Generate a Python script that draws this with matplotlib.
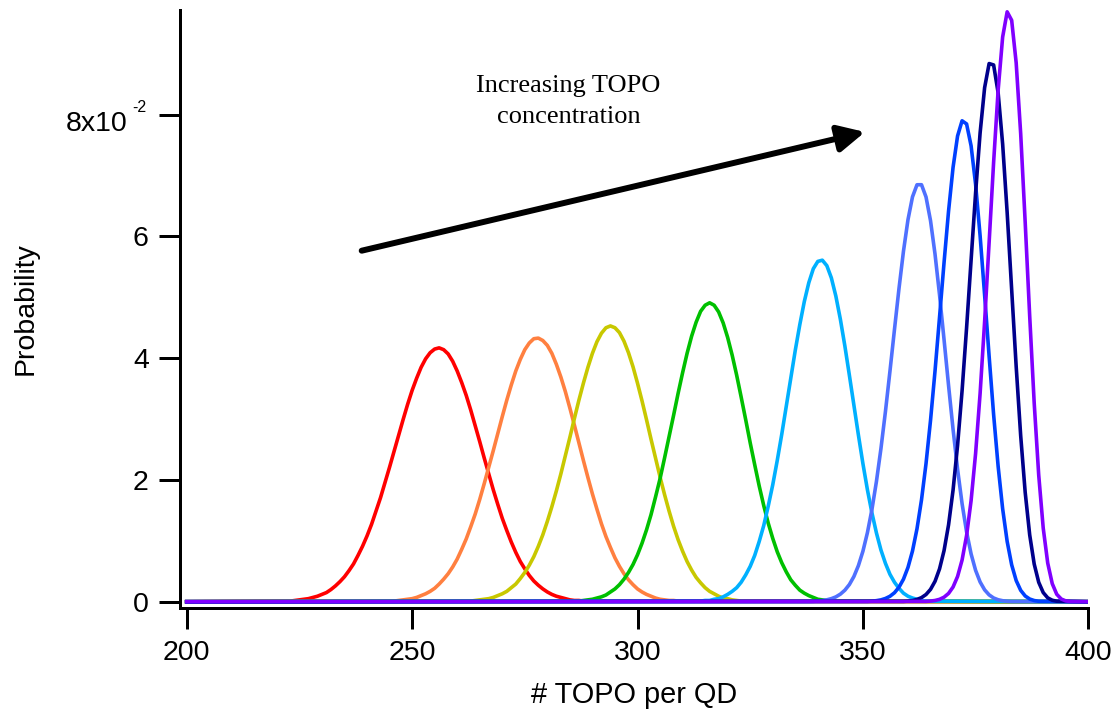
import numpy as np
import matplotlib
matplotlib.use("Agg")
import matplotlib.pyplot as plt

# Probability distributions of the number of TOPO ligands per QD,
# one per TOPO concentration. Values are in units of 1e-2 (matching the
# "x10^-2" axis), listed for consecutive TOPO counts starting at *_start.
red_start = 221
red = [0.01, 0.01, 0.01, 0.02, 0.03, 0.04, 0.05, 0.07, 0.09, 0.12,
       0.15, 0.20, 0.26, 0.33, 0.41, 0.51, 0.62, 0.76, 0.91, 1.08,
       1.27, 1.49, 1.71, 1.96, 2.21, 2.47, 2.73, 2.99, 3.24, 3.47,
       3.67, 3.85, 3.99, 4.09, 4.15, 4.17, 4.14, 4.07, 3.95, 3.79,
       3.60, 3.39, 3.15, 2.89, 2.63, 2.36, 2.10, 1.84, 1.60, 1.37,
       1.17, 0.98, 0.81, 0.66, 0.54, 0.43, 0.34, 0.27, 0.21, 0.16,
       0.12, 0.09, 0.07, 0.05, 0.03, 0.02, 0.02, 0.01, 0.01, 0.01]

orange_start = 244
orange = [0.01, 0.01, 0.01, 0.02, 0.03, 0.04, 0.05, 0.07, 0.10, 0.13,
          0.17, 0.22, 0.29, 0.37, 0.46, 0.57, 0.70, 0.86, 1.03, 1.23,
          1.44, 1.68, 1.94, 2.21, 2.48, 2.76, 3.04, 3.31, 3.56, 3.79,
          3.98, 4.14, 4.25, 4.32, 4.33, 4.29, 4.21, 4.08, 3.90, 3.69,
          3.45, 3.18, 2.90, 2.61, 2.32, 2.04, 1.77, 1.52, 1.28, 1.07,
          0.89, 0.72, 0.58, 0.46, 0.36, 0.28, 0.21, 0.16, 0.12, 0.09,
          0.06, 0.04, 0.03, 0.02, 0.02, 0.01, 0.01]

yellow_start = 261
yellow = [0.01, 0.01, 0.01, 0.02, 0.03, 0.04, 0.05, 0.07, 0.10, 0.13,
          0.17, 0.23, 0.29, 0.38, 0.48, 0.60, 0.74, 0.91, 1.10, 1.32,
          1.56, 1.82, 2.10, 2.40, 2.70, 3.01, 3.31, 3.59, 3.85, 4.08,
          4.27, 4.41, 4.50, 4.53, 4.50, 4.42, 4.28, 4.09, 3.86, 3.59,
          3.30, 2.99, 2.67, 2.36, 2.05, 1.76, 1.49, 1.24, 1.02, 0.83,
          0.66, 0.52, 0.40, 0.31, 0.23, 0.17, 0.13, 0.09, 0.06, 0.05,
          0.03, 0.02, 0.01, 0.01, 0.01]

green_start = 285
green = [0.01, 0.01, 0.01, 0.02, 0.03, 0.04, 0.06, 0.08, 0.11, 0.16,
         0.21, 0.28, 0.37, 0.48, 0.61, 0.77, 0.96, 1.18, 1.43, 1.72,
         2.02, 2.36, 2.71, 3.06, 3.42, 3.76, 4.08, 4.36, 4.59, 4.77,
         4.87, 4.91, 4.87, 4.76, 4.58, 4.34, 4.05, 3.72, 3.36, 2.99,
         2.61, 2.25, 1.90, 1.58, 1.29, 1.04, 0.82, 0.64, 0.49, 0.36,
         0.27, 0.19, 0.14, 0.10, 0.07, 0.04, 0.03, 0.02, 0.01, 0.01]

cyan_start = 313
cyan = [0.01, 0.01, 0.02, 0.02, 0.04, 0.05, 0.08, 0.12, 0.17, 0.23,
        0.32, 0.44, 0.58, 0.76, 0.99, 1.25, 1.57, 1.92, 2.32, 2.75,
        3.21, 3.67, 4.13, 4.55, 4.93, 5.24, 5.47, 5.59, 5.61, 5.52,
        5.32, 5.02, 4.64, 4.20, 3.72, 3.23, 2.74, 2.27, 1.84, 1.46,
        1.13, 0.85, 0.63, 0.45, 0.32, 0.22, 0.14, 0.09, 0.06, 0.04,
        0.02, 0.01, 0.01]

lightblue_start = 338
lightblue = [0.004, 0.006, 0.011, 0.018, 0.031, 0.050, 0.079, 0.124, 0.189, 0.282,
             0.413, 0.592, 0.828, 1.133, 1.513, 1.974, 2.514, 3.124, 3.785, 4.469,
             5.141, 5.758, 6.275, 6.650, 6.849, 6.850, 6.649, 6.259, 5.709, 5.041,
             4.306, 3.554, 2.832, 2.176, 1.611, 1.147, 0.785, 0.515, 0.324, 0.195,
             0.112, 0.061, 0.032, 0.016, 0.007, 0.003]

blue_start = 351
blue = [0.005, 0.009, 0.017, 0.030, 0.053, 0.089, 0.147, 0.237, 0.370, 0.563,
        0.833, 1.198, 1.673, 2.267, 2.978, 3.791, 4.673, 5.570, 6.416, 7.135,
        7.650, 7.900, 7.848, 7.489, 6.856, 6.011, 5.038, 4.031, 3.071, 2.223,
        1.526, 0.990, 0.606, 0.348, 0.187, 0.094, 0.044, 0.019, 0.007]

navy_start = 359
navy = [0.005, 0.010, 0.019, 0.037, 0.067, 0.118, 0.202, 0.335, 0.539, 0.839,
        1.262, 1.833, 2.568, 3.465, 4.499, 5.611, 6.716, 7.701, 8.444, 8.840,
        8.817, 8.359, 7.517, 6.393, 5.127, 3.865, 2.728, 1.796, 1.097, 0.618,
        0.319, 0.150, 0.063, 0.024, 0.008]

purple_start = 364
purple = [0.005, 0.010, 0.020, 0.039, 0.074, 0.136, 0.241, 0.414, 0.684, 1.087,
          1.660, 2.435, 3.421, 4.599, 5.903, 7.222, 8.403, 9.276, 9.690, 9.551,
          8.853, 7.689, 6.232, 4.691, 3.261, 2.081, 1.209, 0.634, 0.297, 0.122,
          0.044, 0.013, 0.003]

x_range = (200, 400)
x_ticks = [200, 250, 300, 350, 400]
y_ticks = [0, 2, 4, 6, 8]

curves = [
    (red_start, red, "#ff0000"),
    (orange_start, orange, "#ff8040"),
    (yellow_start, yellow, "#c8c800"),
    (green_start, green, "#00c000"),
    (cyan_start, cyan, "#00b0ff"),
    (lightblue_start, lightblue, "#4f70ff"),
    (blue_start, blue, "#0040ff"),
    (navy_start, navy, "#00008c"),
    (purple_start, purple, "#8000ff"),
]

plt.rcParams['font.family'] = ['Liberation Sans', 'DejaVu Sans']

W, H = 1120, 717
fig = plt.figure(figsize=(W / 100, H / 100), dpi=100)
ax = fig.add_axes([180 / W, 1 - 608 / H, (1088.3 - 180) / W, (608 - 10) / H])

for start, vals, color in curves:
    # each distribution is zero over the rest of the axis range
    xs = [x_range[0]] + list(range(start, start + len(vals))) + [x_range[1]]
    ys = np.array([0.0] + vals + [0.0]) * 1e-2
    ax.plot(xs, ys, color=color, lw=2.6, solid_joinstyle="round")

ax.set_xlim(x_range[0] - 6.7 / 4.508, x_range[1])
ax.set_ylim(-(608 - 601.7) / 6087.5, (601.7 - 10) / 6087.5)
for s in ("top", "right"):
    ax.spines[s].set_visible(False)
for s in ("left", "bottom"):
    ax.spines[s].set_linewidth(2.16)
ax.set_xticks(x_ticks)
ax.set_yticks([t * 1e-2 for t in y_ticks])
ax.set_yticklabels([str(t) for t in y_ticks[:-1]] + [""])
ax.tick_params(direction="out", length=15, width=2.16, labelsize=20.5)
ax.tick_params(axis="x", pad=8.4)
ax.tick_params(axis="y", pad=7.5)

# top tick label with the exponent written as a superscript
fig.text(127.7 / W, 1 - 130.7 / H, f"{y_ticks[-1]}x10", ha="right", va="baseline",
         fontsize=20.5)
fig.text(132.5 / W, 1 - 111.7 / H, "-2", ha="left", va="baseline", fontsize=11.5)

fig.text(634 / W, 1 - 703 / H, "# TOPO per QD", ha="center", va="baseline",
         fontsize=20.8)
fig.text(33 / W, 1 - 309 / H, "Probability", ha="center", va="baseline",
         rotation=90, rotation_mode="anchor", fontsize=20.5)

serif = ["Liberation Serif", "DejaVu Serif"]
fig.text(568 / W, 1 - 92 / H, "Increasing TOPO", ha="center", va="baseline",
         fontsize=19, family=serif)
fig.text(569 / W, 1 - 123 / H, "concentration", ha="center", va="baseline",
         fontsize=19, family=serif)

ax.annotate("", xy=(865, H - 132), xytext=(361.7, H - 250.7),
            xycoords="figure pixels", textcoords="figure pixels",
            arrowprops=dict(arrowstyle="-|>,head_length=1.0,head_width=0.5",
                            lw=4.3, color="k", shrinkA=0, shrinkB=0,
                            mutation_scale=16))

fig.savefig("out.png", dpi=100)
